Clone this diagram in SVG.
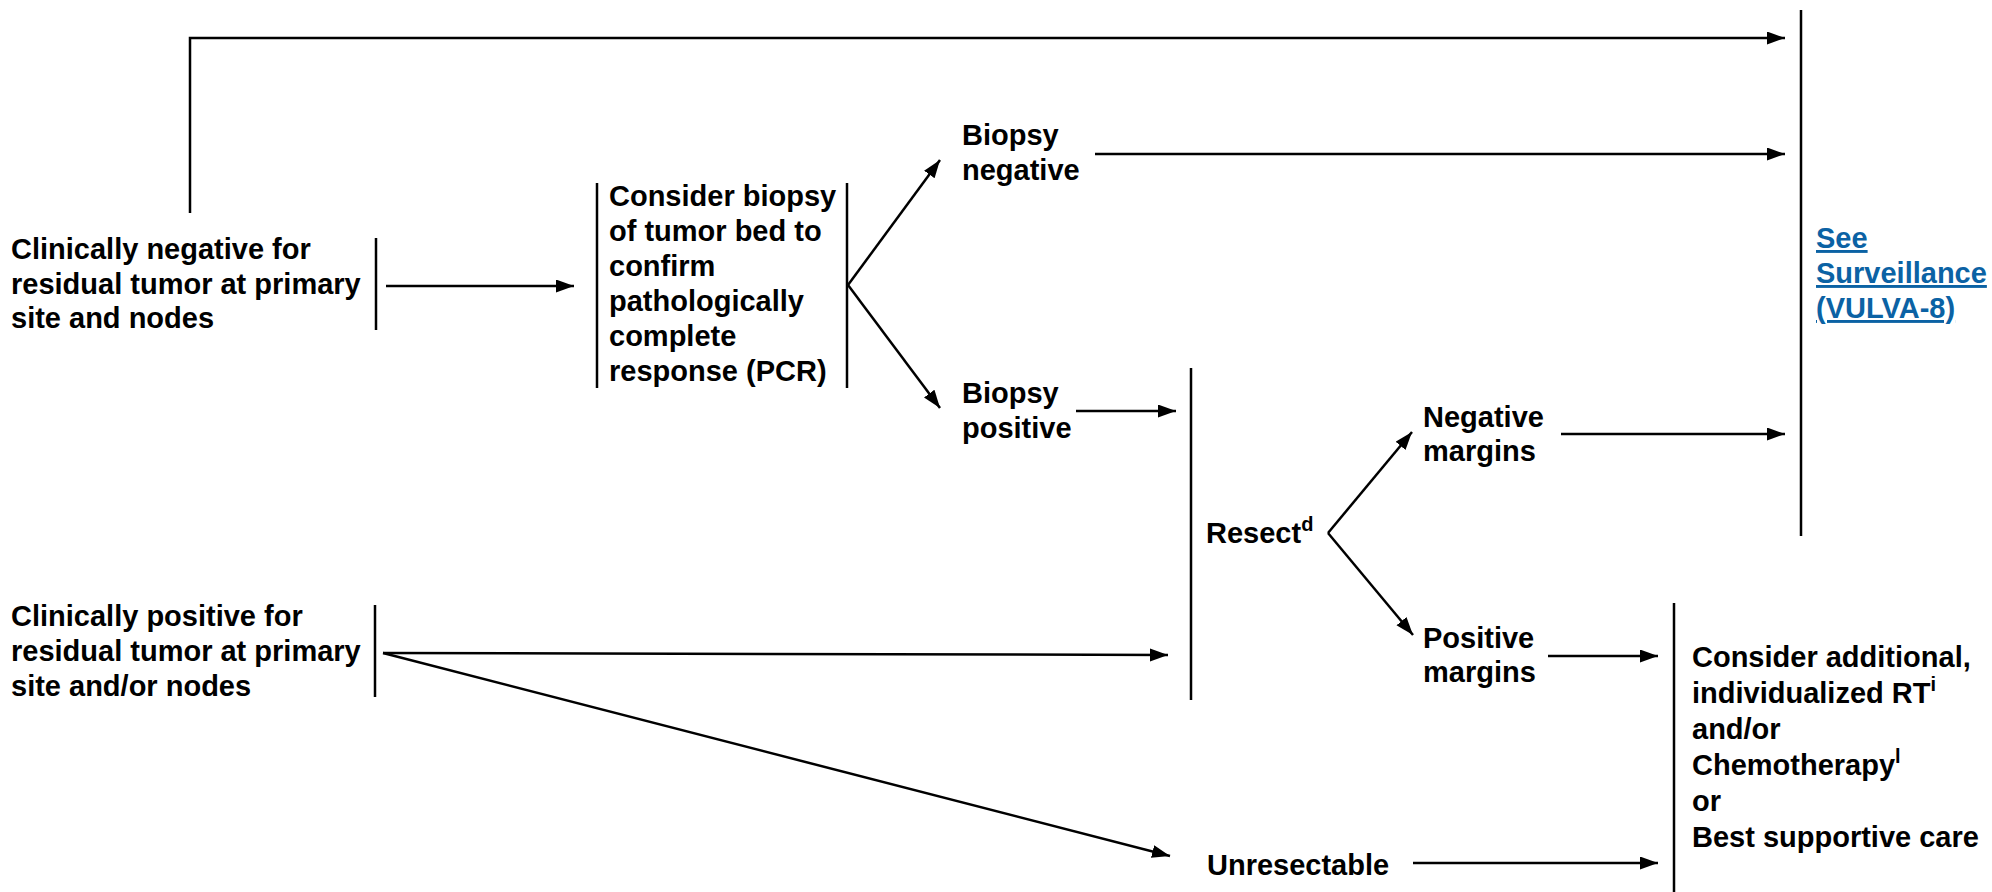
<svg xmlns="http://www.w3.org/2000/svg" width="1992" height="892" viewBox="0 0 1992 892">
<defs>
<style>
text{font-family:"Liberation Sans",Arial,sans-serif;font-weight:bold;font-size:29px;fill:#000}
.link{fill:#0b62a4;text-decoration:underline}
.sup{font-size:20px}
.bar{stroke:#000;stroke-width:2.5;fill:none}
.conn{stroke:#000;stroke-width:2.5;fill:none;marker-end:url(#ah)}
</style>
<marker id="ah" markerUnits="userSpaceOnUse" markerWidth="19" markerHeight="14" refX="18" refY="6.5" orient="auto">
<path d="M0,0 L18,6.5 L0,13 z" fill="#000"/>
</marker>
</defs>
<rect width="1992" height="892" fill="#fff"/>

<g id="connectors">
<polyline class="conn" points="190,213 190,38 1785,38"/>
<line class="conn" x1="386" y1="286" x2="574" y2="286"/>
<line class="conn" x1="848" y1="285" x2="940" y2="160"/>
<line class="conn" x1="848" y1="285" x2="940" y2="408"/>
<line class="conn" x1="1095" y1="154" x2="1785" y2="154"/>
<line class="conn" x1="1076" y1="411" x2="1176" y2="411"/>
<line class="conn" x1="1328" y1="533" x2="1412" y2="432"/>
<line class="conn" x1="1328" y1="533" x2="1413" y2="635"/>
<line class="conn" x1="1561" y1="434" x2="1785" y2="434"/>
<line class="conn" x1="1548" y1="656" x2="1658" y2="656"/>
<line class="conn" x1="383" y1="653" x2="1168" y2="655"/>
<line class="conn" x1="383" y1="653" x2="1170" y2="856"/>
<line class="conn" x1="1413" y1="863" x2="1658" y2="863"/>
</g>

<g id="clin-neg">
<text x="11" y="259">Clinically negative for</text>
<text x="11" y="294">residual tumor at primary</text>
<text x="11" y="328">site and nodes</text>
<line class="bar" x1="376" y1="238" x2="376" y2="330"/>
</g>

<g id="consider-biopsy">
<line class="bar" x1="597" y1="183" x2="597" y2="388"/>
<line class="bar" x1="847" y1="183" x2="847" y2="388"/>
<text x="609" y="206">Consider biopsy</text>
<text x="609" y="241">of tumor bed to</text>
<text x="609" y="276">confirm</text>
<text x="609" y="311">pathologically</text>
<text x="609" y="346">complete</text>
<text x="609" y="381">response (PCR)</text>
</g>

<g id="biopsy-negative">
<text x="962" y="145">Biopsy</text>
<text x="962" y="180">negative</text>
</g>

<g id="biopsy-positive">
<text x="962" y="403">Biopsy</text>
<text x="962" y="438">positive</text>
</g>

<g id="resect">
<line class="bar" x1="1191" y1="368" x2="1191" y2="700"/>
<text x="1206" y="543">Resect<tspan class="sup" dy="-12">d</tspan></text>
</g>

<g id="negative-margins">
<text x="1423" y="427">Negative</text>
<text x="1423" y="461">margins</text>
</g>

<g id="positive-margins">
<text x="1423" y="648">Positive</text>
<text x="1423" y="682">margins</text>
</g>

<g id="surveillance">
<line class="bar" x1="1801" y1="10" x2="1801" y2="536"/>
<text class="link" x="1816" y="248">See</text>
<text class="link" x="1816" y="283">Surveillance</text>
<text class="link" x="1816" y="318">(VULVA-8)</text>
</g>

<g id="clin-pos">
<text x="11" y="626">Clinically positive for</text>
<text x="11" y="661">residual tumor at primary</text>
<text x="11" y="696">site and/or nodes</text>
<line class="bar" x1="375" y1="605" x2="375" y2="697"/>
</g>

<g id="unresectable">
<text x="1207" y="875">Unresectable</text>
</g>

<g id="additional">
<line class="bar" x1="1674" y1="603" x2="1674" y2="892"/>
<text x="1692" y="667">Consider additional,</text>
<text x="1692" y="703">individualized RT<tspan class="sup" dy="-12">i</tspan></text>
<text x="1692" y="739">and/or</text>
<text x="1692" y="775">Chemotherapy<tspan class="sup" dy="-12">l</tspan></text>
<text x="1692" y="811">or</text>
<text x="1692" y="847">Best supportive care</text>
</g>
</svg>
